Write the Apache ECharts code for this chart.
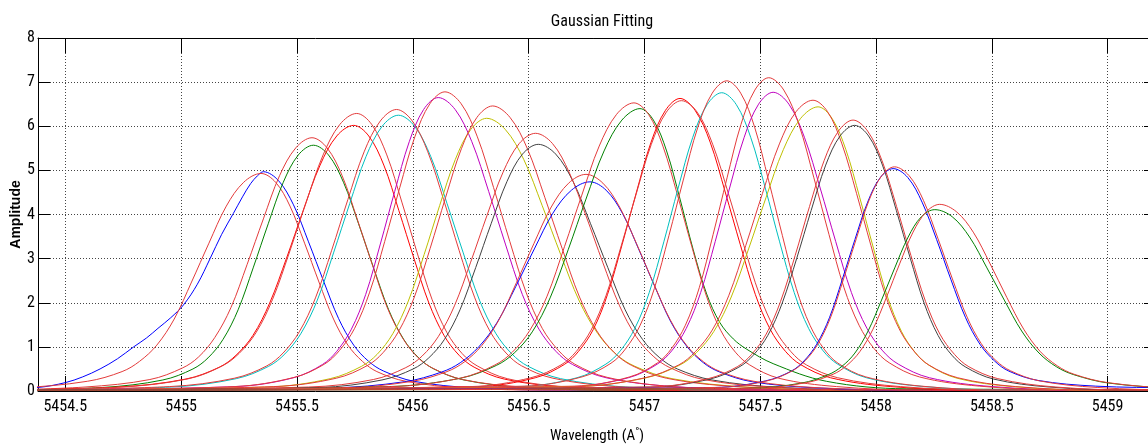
<!DOCTYPE html>
<html>
<head>
<meta charset="utf-8">
<title>Gaussian Fitting</title>
<script src="https://cdn.jsdelivr.net/npm/echarts@6/dist/echarts.min.js"></script>
<style>
  html, body { margin: 0; padding: 0; background: #ffffff; }
  #chart { width: 1148px; height: 444px; }
</style>
</head>
<body>
<div id="chart"></div>
<script>
// Wavelength window of the plot (Angstrom) and amplitude range
const xRange = [5454.382, 5459.209];
const yRange = [0, 8];

// Fitted line profiles, [wavelength, amplitude], left to right
const fitB1 = [[5454.2,0.05],[5454.382,0.08],[5454.5,0.19],[5454.575,0.32],[5454.65,0.5],[5454.725,0.73],[5454.795,1.0],[5454.85,1.2],[5454.9,1.42],[5454.955,1.66],[5455.01,1.95],[5455.07,2.42],[5455.125,3.0],[5455.175,3.55],[5455.225,4.02],[5455.265,4.4],[5455.3,4.7],[5455.33,4.88],[5455.355,4.97],[5455.42,4.77],[5455.485,4.22],[5455.55,3.38],[5455.615,2.49],[5455.68,1.64],[5455.745,1.04],[5455.81,0.67],[5455.875,0.45],[5456.005,0.22],[5456.265,0.07],[5456.66,0.02],[5459.4,0.03]];
const fitG1 = [[5454.2,0.02],[5454.661,0.08],[5454.921,0.25],[5455.051,0.50],[5455.116,0.75],[5455.181,1.17],[5455.246,1.84],[5455.311,2.79],[5455.376,3.79],[5455.441,4.73],[5455.506,5.35],[5455.571,5.57],[5455.636,5.35],[5455.701,4.73],[5455.766,3.79],[5455.831,2.79],[5455.896,1.84],[5455.961,1.17],[5456.026,0.75],[5456.091,0.50],[5456.221,0.25],[5456.481,0.08],[5456.9,0.02],[5459.4,0.03]];
const fitR1 = [[5454.2,0.02],[5454.73,0.09],[5455.02,0.27],[5455.165,0.54],[5455.237,0.81],[5455.31,1.26],[5455.382,1.99],[5455.455,3.01],[5455.527,4.09],[5455.6,5.12],[5455.672,5.78],[5455.745,6.02],[5455.81,5.78],[5455.875,5.12],[5455.94,4.09],[5456.005,3.01],[5456.07,1.99],[5456.135,1.26],[5456.2,0.81],[5456.265,0.54],[5456.395,0.27],[5456.655,0.09],[5457.05,0.02],[5459.4,0.03]];
const fitC1 = [[5454.2,0.02],[5454.958,0.09],[5455.238,0.28],[5455.378,0.56],[5455.448,0.84],[5455.518,1.31],[5455.588,2.06],[5455.658,3.13],[5455.728,4.25],[5455.798,5.31],[5455.868,6.00],[5455.938,6.25],[5456.008,6.00],[5456.078,5.31],[5456.148,4.25],[5456.218,3.13],[5456.288,2.06],[5456.358,1.31],[5456.428,0.84],[5456.498,0.56],[5456.638,0.28],[5456.918,0.09],[5457.34,0.02],[5459.4,0.03]];
const fitM1 = [[5454.2,0.02],[5455.235,0.10],[5455.485,0.30],[5455.61,0.60],[5455.672,0.90],[5455.735,1.40],[5455.797,2.19],[5455.86,3.33],[5455.922,4.52],[5455.985,5.65],[5456.047,6.38],[5456.11,6.65],[5456.183,6.38],[5456.255,5.65],[5456.328,4.52],[5456.4,3.33],[5456.473,2.19],[5456.545,1.40],[5456.618,0.90],[5456.69,0.60],[5456.835,0.30],[5457.125,0.10],[5457.56,0.02],[5459.4,0.03]];
const fitY1 = [[5454.2,0.02],[5455.374,0.09],[5455.644,0.28],[5455.779,0.56],[5455.846,0.83],[5455.914,1.30],[5455.981,2.04],[5456.049,3.09],[5456.116,4.20],[5456.184,5.25],[5456.251,5.93],[5456.319,6.18],[5456.399,5.93],[5456.479,5.25],[5456.559,4.20],[5456.639,3.09],[5456.719,2.04],[5456.799,1.30],[5456.879,0.83],[5456.959,0.56],[5457.119,0.28],[5457.439,0.09],[5457.92,0.02],[5459.4,0.03]];
const fitK1 = [[5454.2,0.02],[5455.597,0.08],[5455.867,0.25],[5456.002,0.50],[5456.069,0.75],[5456.137,1.17],[5456.204,1.84],[5456.272,2.80],[5456.339,3.80],[5456.407,4.75],[5456.474,5.37],[5456.542,5.59],[5456.617,5.37],[5456.692,4.75],[5456.767,3.80],[5456.842,2.80],[5456.917,1.84],[5456.992,1.17],[5457.067,0.75],[5457.142,0.50],[5457.292,0.25],[5457.592,0.08],[5458.04,0.02],[5459.4,0.03]];
const fitB2 = [[5454.2,0.02],[5455.645,0.07],[5455.965,0.21],[5456.125,0.43],[5456.205,0.64],[5456.285,1.00],[5456.365,1.56],[5456.445,2.37],[5456.525,3.22],[5456.605,4.03],[5456.685,4.55],[5456.765,4.74],[5456.835,4.55],[5456.905,4.03],[5456.975,3.22],[5457.045,2.37],[5457.115,1.56],[5457.185,1.00],[5457.255,0.64],[5457.325,0.43],[5457.465,0.21],[5457.745,0.07],[5458.17,0.02],[5459.4,0.03]];
const fitG2 = [[5454.2,0.02],[5455.896,0.10],[5456.206,0.29],[5456.361,0.58],[5456.438,0.86],[5456.516,1.34],[5456.593,2.11],[5456.671,3.20],[5456.748,4.35],[5456.826,5.44],[5456.903,6.14],[5456.981,6.40],[5457.039,6.14],[5457.096,5.44],[5457.154,4.35],[5457.211,3.20],[5457.269,2.20],[5457.326,1.55],[5457.384,1.18],[5457.441,0.95],[5457.556,0.62],[5457.786,0.22],[5458.13,0.05],[5459.4,0.03]];
const fitR2 = [[5454.2,0.02],[5456.279,0.10],[5456.529,0.30],[5456.654,0.60],[5456.716,0.90],[5456.779,1.39],[5456.841,2.19],[5456.904,3.32],[5456.966,4.51],[5457.029,5.64],[5457.091,6.36],[5457.154,6.63],[5457.219,6.36],[5457.284,5.64],[5457.349,4.51],[5457.414,3.32],[5457.479,2.19],[5457.544,1.39],[5457.609,0.90],[5457.674,0.60],[5457.804,0.30],[5458.064,0.10],[5458.45,0.02],[5459.4,0.03]];
const fitC2 = [[5454.2,0.02],[5456.459,0.10],[5456.709,0.30],[5456.834,0.61],[5456.896,0.91],[5456.959,1.42],[5457.021,2.23],[5457.084,3.38],[5457.146,4.60],[5457.209,5.75],[5457.271,6.49],[5457.334,6.76],[5457.397,6.49],[5457.459,5.75],[5457.522,4.60],[5457.584,3.38],[5457.647,2.23],[5457.709,1.42],[5457.772,0.91],[5457.834,0.61],[5457.959,0.30],[5458.209,0.10],[5458.58,0.02],[5459.4,0.03]];
const fitM2 = [[5454.2,0.02],[5456.681,0.10],[5456.931,0.30],[5457.056,0.61],[5457.118,0.91],[5457.181,1.42],[5457.243,2.23],[5457.306,3.39],[5457.368,4.60],[5457.431,5.75],[5457.493,6.50],[5457.556,6.77],[5457.624,6.50],[5457.691,5.75],[5457.759,4.60],[5457.826,3.39],[5457.894,2.23],[5457.961,1.42],[5458.029,0.91],[5458.096,0.61],[5458.231,0.30],[5458.501,0.10],[5458.9,0.02],[5459.4,0.03]];
const fitY2 = [[5454.2,0.02],[5456.7,0.10],[5457.0,0.29],[5457.15,0.58],[5457.225,0.87],[5457.3,1.35],[5457.375,2.13],[5457.45,3.22],[5457.525,4.38],[5457.6,5.47],[5457.675,6.18],[5457.75,6.44],[5457.81,6.18],[5457.87,5.47],[5457.93,4.38],[5457.99,3.22],[5458.05,2.13],[5458.11,1.35],[5458.17,0.87],[5458.23,0.58],[5458.35,0.29],[5458.59,0.10],[5458.95,0.02],[5459.4,0.03]];
const fitK2 = [[5454.2,0.02],[5457.033,0.09],[5457.283,0.27],[5457.408,0.54],[5457.47,0.81],[5457.533,1.26],[5457.595,1.99],[5457.658,3.01],[5457.72,4.09],[5457.783,5.12],[5457.845,5.78],[5457.908,6.02],[5457.968,5.78],[5458.028,5.12],[5458.088,4.09],[5458.148,3.01],[5458.208,1.99],[5458.268,1.26],[5458.328,0.81],[5458.388,0.54],[5458.508,0.27],[5458.748,0.09],[5459.11,0.02],[5459.4,0.03]];
const fitB3 = [[5454.2,0.02],[5457.304,0.08],[5457.524,0.23],[5457.634,0.45],[5457.689,0.68],[5457.744,1.06],[5457.799,1.66],[5457.854,2.52],[5457.909,3.43],[5457.964,4.28],[5458.019,4.84],[5458.074,5.04],[5458.137,4.84],[5458.199,4.28],[5458.262,3.43],[5458.324,2.52],[5458.387,1.66],[5458.449,1.06],[5458.512,0.68],[5458.574,0.45],[5458.699,0.24],[5458.949,0.11],[5459.3,0.07],[5459.4,0.06]];
const fitG3 = [[5454.2,0.02],[5457.449,0.06],[5457.679,0.18],[5457.794,0.37],[5457.851,0.55],[5457.909,0.86],[5457.966,1.36],[5458.024,2.06],[5458.081,2.79],[5458.139,3.49],[5458.196,3.95],[5458.254,4.11],[5458.329,3.95],[5458.404,3.49],[5458.479,2.79],[5458.554,2.06],[5458.629,1.36],[5458.704,0.86],[5458.779,0.55],[5458.854,0.37],[5459.004,0.18],[5459.304,0.06],[5459.75,0.02]];

// Measured profiles (drawn in red), one per fitted line
const obsB1 = [[5453.8,0.02],[5454.295,0.07],[5454.595,0.22],[5454.745,0.44],[5454.82,0.67],[5454.895,1.04],[5454.97,1.63],[5455.045,2.47],[5455.12,3.35],[5455.195,4.19],[5455.27,4.73],[5455.345,4.93],[5455.408,4.73],[5455.47,4.19],[5455.533,3.35],[5455.595,2.47],[5455.658,1.63],[5455.72,1.04],[5455.783,0.67],[5455.845,0.44],[5455.97,0.22],[5456.22,0.07],[5456.6,0.02],[5459.4,0.03]];
const obsG1 = [[5454.2,0.02],[5454.585,0.09],[5454.865,0.26],[5455.005,0.52],[5455.075,0.77],[5455.145,1.21],[5455.215,1.89],[5455.285,2.87],[5455.355,3.90],[5455.425,4.88],[5455.495,5.51],[5455.565,5.74],[5455.63,5.51],[5455.695,4.88],[5455.76,3.90],[5455.825,2.87],[5455.89,1.89],[5455.955,1.21],[5456.02,0.77],[5456.085,0.52],[5456.215,0.26],[5456.475,0.09],[5456.9,0.02],[5459.4,0.03]];
const obsR1 = [[5454.2,0.02],[5454.743,0.09],[5455.033,0.28],[5455.178,0.57],[5455.25,0.85],[5455.323,1.32],[5455.395,2.08],[5455.468,3.15],[5455.54,4.28],[5455.613,5.35],[5455.685,6.04],[5455.758,6.29],[5455.823,6.04],[5455.888,5.35],[5455.953,4.28],[5456.018,3.15],[5456.083,2.08],[5456.148,1.32],[5456.213,0.85],[5456.278,0.57],[5456.408,0.28],[5456.668,0.09],[5457.06,0.02],[5459.4,0.03]];
const obsC1 = [[5454.2,0.02],[5454.95,0.10],[5455.23,0.29],[5455.37,0.57],[5455.44,0.86],[5455.51,1.34],[5455.58,2.11],[5455.65,3.19],[5455.72,4.34],[5455.79,5.42],[5455.86,6.12],[5455.93,6.38],[5455.998,6.12],[5456.065,5.42],[5456.133,4.34],[5456.2,3.19],[5456.268,2.11],[5456.335,1.34],[5456.403,0.86],[5456.47,0.57],[5456.605,0.29],[5456.875,0.10],[5457.3,0.02],[5459.4,0.03]];
const obsM1 = [[5454.2,0.02],[5455.229,0.10],[5455.489,0.31],[5455.619,0.61],[5455.684,0.92],[5455.749,1.42],[5455.814,2.24],[5455.879,3.39],[5455.944,4.61],[5456.009,5.76],[5456.074,6.51],[5456.139,6.78],[5456.209,6.51],[5456.279,5.76],[5456.349,4.61],[5456.419,3.39],[5456.489,2.24],[5456.559,1.42],[5456.629,0.92],[5456.699,0.61],[5456.839,0.31],[5457.119,0.10],[5457.54,0.02],[5459.4,0.03]];
const obsY1 = [[5454.2,0.02],[5455.4,0.10],[5455.67,0.29],[5455.805,0.58],[5455.872,0.87],[5455.94,1.36],[5456.007,2.13],[5456.075,3.23],[5456.142,4.39],[5456.21,5.49],[5456.277,6.20],[5456.345,6.46],[5456.42,6.20],[5456.495,5.49],[5456.57,4.39],[5456.645,3.23],[5456.72,2.13],[5456.795,1.36],[5456.87,0.87],[5456.945,0.58],[5457.095,0.29],[5457.395,0.10],[5457.85,0.02],[5459.4,0.03]];
const obsK1 = [[5454.2,0.02],[5455.55,0.09],[5455.83,0.26],[5455.97,0.53],[5456.04,0.79],[5456.11,1.23],[5456.18,1.93],[5456.25,2.92],[5456.32,3.97],[5456.39,4.96],[5456.46,5.61],[5456.53,5.84],[5456.603,5.61],[5456.675,4.96],[5456.748,3.97],[5456.82,2.92],[5456.893,1.93],[5456.965,1.23],[5457.038,0.79],[5457.11,0.53],[5457.255,0.26],[5457.545,0.09],[5457.98,0.02],[5459.4,0.03]];
const obsB2 = [[5454.2,0.02],[5455.698,0.07],[5455.998,0.22],[5456.148,0.44],[5456.223,0.66],[5456.298,1.03],[5456.373,1.62],[5456.448,2.46],[5456.523,3.34],[5456.598,4.17],[5456.673,4.71],[5456.748,4.91],[5456.821,4.71],[5456.893,4.17],[5456.966,3.34],[5457.038,2.46],[5457.111,1.62],[5457.183,1.03],[5457.256,0.66],[5457.328,0.44],[5457.473,0.22],[5457.763,0.07],[5458.2,0.02],[5459.4,0.03]];
const obsG2 = [[5454.2,0.02],[5455.905,0.10],[5456.205,0.29],[5456.355,0.59],[5456.43,0.88],[5456.505,1.37],[5456.58,2.15],[5456.655,3.27],[5456.73,4.44],[5456.805,5.55],[5456.88,6.27],[5456.955,6.53],[5457.018,6.27],[5457.08,5.55],[5457.143,4.44],[5457.205,3.27],[5457.268,2.15],[5457.33,1.37],[5457.393,0.88],[5457.455,0.59],[5457.58,0.29],[5457.83,0.10],[5458.2,0.02],[5459.4,0.03]];
const obsR2 = [[5454.2,0.02],[5456.25,0.10],[5456.51,0.30],[5456.64,0.59],[5456.705,0.89],[5456.77,1.38],[5456.835,2.17],[5456.9,3.29],[5456.965,4.47],[5457.03,5.59],[5457.095,6.32],[5457.16,6.58],[5457.228,6.32],[5457.295,5.59],[5457.363,4.47],[5457.43,3.29],[5457.498,2.17],[5457.565,1.38],[5457.633,0.89],[5457.7,0.59],[5457.835,0.30],[5458.105,0.10],[5458.5,0.02],[5459.4,0.03]];
const obsC2 = [[5454.2,0.02],[5456.481,0.11],[5456.731,0.32],[5456.856,0.63],[5456.918,0.95],[5456.981,1.48],[5457.043,2.32],[5457.106,3.52],[5457.168,4.78],[5457.231,5.98],[5457.293,6.75],[5457.356,7.03],[5457.416,6.75],[5457.476,5.98],[5457.536,4.78],[5457.596,3.52],[5457.656,2.32],[5457.716,1.48],[5457.776,0.95],[5457.836,0.63],[5457.956,0.32],[5458.196,0.11],[5458.56,0.02],[5459.4,0.03]];
const obsM2 = [[5454.2,0.02],[5456.697,0.11],[5456.937,0.32],[5457.057,0.64],[5457.117,0.96],[5457.177,1.49],[5457.237,2.34],[5457.297,3.55],[5457.357,4.83],[5457.417,6.04],[5457.477,6.82],[5457.537,7.10],[5457.602,6.82],[5457.667,6.04],[5457.732,4.83],[5457.797,3.55],[5457.862,2.34],[5457.927,1.49],[5457.992,0.96],[5458.057,0.64],[5458.187,0.32],[5458.447,0.11],[5458.84,0.02],[5459.4,0.03]];
const obsY2 = [[5454.2,0.02],[5456.713,0.10],[5457.003,0.30],[5457.148,0.59],[5457.22,0.89],[5457.293,1.38],[5457.365,2.17],[5457.438,3.30],[5457.51,4.48],[5457.583,5.60],[5457.655,6.33],[5457.728,6.59],[5457.791,6.33],[5457.853,5.60],[5457.916,4.48],[5457.978,3.30],[5458.041,2.17],[5458.103,1.38],[5458.166,0.89],[5458.228,0.59],[5458.353,0.30],[5458.603,0.10],[5458.98,0.02],[5459.4,0.03]];
const obsK2 = [[5454.2,0.02],[5457.026,0.09],[5457.276,0.28],[5457.401,0.55],[5457.463,0.83],[5457.526,1.29],[5457.588,2.03],[5457.651,3.07],[5457.713,4.18],[5457.776,5.22],[5457.838,5.89],[5457.901,6.14],[5457.964,5.89],[5458.026,5.22],[5458.089,4.18],[5458.151,3.07],[5458.214,2.03],[5458.276,1.29],[5458.339,0.83],[5458.401,0.55],[5458.526,0.28],[5458.776,0.09],[5459.15,0.02],[5459.4,0.03]];
const obsB3 = [[5454.2,0.02],[5457.31,0.08],[5457.53,0.23],[5457.64,0.46],[5457.695,0.69],[5457.75,1.07],[5457.805,1.68],[5457.86,2.54],[5457.915,3.45],[5457.97,4.32],[5458.025,4.88],[5458.08,5.08],[5458.143,4.88],[5458.205,4.32],[5458.268,3.45],[5458.33,2.54],[5458.393,1.68],[5458.455,1.07],[5458.518,0.69],[5458.58,0.46],[5458.705,0.23],[5458.955,0.08],[5459.33,0.02],[5459.4,0.03]];
const obsG3 = [[5454.2,0.02],[5457.47,0.06],[5457.7,0.19],[5457.815,0.38],[5457.872,0.57],[5457.93,0.89],[5457.987,1.40],[5458.045,2.12],[5458.102,2.88],[5458.16,3.60],[5458.217,4.06],[5458.275,4.23],[5458.348,4.06],[5458.42,3.60],[5458.493,2.88],[5458.565,2.12],[5458.638,1.40],[5458.71,0.89],[5458.783,0.57],[5458.855,0.38],[5459.0,0.19],[5459.29,0.06],[5459.73,0.02]];

const fitLines = [fitB1, fitG1, fitR1, fitC1, fitM1, fitY1, fitK1, fitB2, fitG2, fitR2, fitC2, fitM2, fitY2, fitK2, fitB3, fitG3];
const obsLines = [obsB1, obsG1, obsR1, obsC1, obsM1, obsY1, obsK1, obsB2, obsG2, obsR2, obsC2, obsM2, obsY2, obsK2, obsB3, obsG3];

// Colour cycle of the fitted lines: b, g, r, c, m, y, k
const fitColors = ['#0000ff', '#008000', '#ff0000', '#00bfbf', '#bf00bf', '#bfbf00', '#404040'];
const obsColor = '#e33b3b';

const narrow = "'Roboto Condensed', 'DejaVu Sans Condensed', 'Liberation Sans', sans-serif";
const plain = "'Liberation Sans', Arial, sans-serif";

const series = [];
fitLines.forEach((pts, i) => {
  series.push({
    type: 'line', data: pts, xAxisIndex: 0, yAxisIndex: 0,
    showSymbol: false, smooth: 0.35, silent: true,
    lineStyle: { color: fitColors[i % fitColors.length], width: 1 }
  });
  series.push({
    type: 'line', data: obsLines[i], xAxisIndex: 0, yAxisIndex: 0,
    showSymbol: false, smooth: 0.35, silent: true,
    lineStyle: { color: obsColor, width: 1 }
  });
});

const dotted = { color: '#444', width: 1, type: [1, 2] };
const black = { color: '#000', width: 1 };

const chart = echarts.init(document.getElementById('chart'), null, { renderer: 'canvas' });
chart.setOption({
  animation: false,
  backgroundColor: '#ffffff',
  title: {
    text: 'Gaussian Fitting',
    left: 597, top: 9, textAlign: 'center',
    textStyle: { fontFamily: narrow, fontSize: 16, fontWeight: 'normal', color: '#000' }
  },
  grid: { left: 38, top: 38, right: -8, bottom: 53, containLabel: false, outerBoundsMode: 'none' },
  xAxis: [{
    type: 'value', position: 'bottom', min: xRange[0], max: xRange[1], splitNumber: 10,
    axisLine: { show: true, onZero: false, lineStyle: black },
    axisTick: { show: true, inside: true, length: 15, lineStyle: black },
    axisLabel: {
      color: '#000', fontFamily: narrow, fontSize: 16, margin: 8,
      showMinLabel: false, showMaxLabel: false,
      formatter: v => String(v)
    },
    splitLine: { show: true, lineStyle: dotted },
    name: '{t|Wavelength (A}{s|°}{t|)}',
    nameLocation: 'middle', nameGap: 36,
    nameTextStyle: {
      rich: {
        t: { fontFamily: narrow, fontSize: 15, color: '#000' },
        s: { fontFamily: narrow, fontSize: 11, color: '#000', padding: [0, 0, 8, 0] }
      }
    }
  }, {
    type: 'value', position: 'top', min: xRange[0], max: xRange[1], splitNumber: 10,
    axisLine: { show: true, onZero: false, lineStyle: black },
    axisTick: { show: true, inside: true, length: 15, lineStyle: black },
    axisLabel: { show: false },
    splitLine: { show: false }
  }],
  yAxis: [{
    type: 'value', position: 'left', min: yRange[0], max: yRange[1], interval: 1,
    axisLine: { show: true, onZero: false, lineStyle: black },
    axisTick: { show: true, inside: true, length: 12, lineStyle: black },
    axisLabel: { color: '#000', fontFamily: narrow, fontSize: 16, margin: 3 },
    splitLine: { show: true, lineStyle: dotted },
    name: 'Amplitude', nameLocation: 'middle', nameGap: 15, nameMoveOverlap: false,
    nameTextStyle: { fontFamily: plain, fontSize: 14, fontWeight: 'bold', color: '#000' }
  }, {
    type: 'value', position: 'right', min: yRange[0], max: yRange[1], interval: 1,
    axisLine: { show: true, onZero: false, lineStyle: black },
    axisTick: { show: true, inside: true, length: 12, lineStyle: black },
    axisLabel: { show: false },
    splitLine: { show: false }
  }],
  series: series
});
</script>
</body>
</html>
